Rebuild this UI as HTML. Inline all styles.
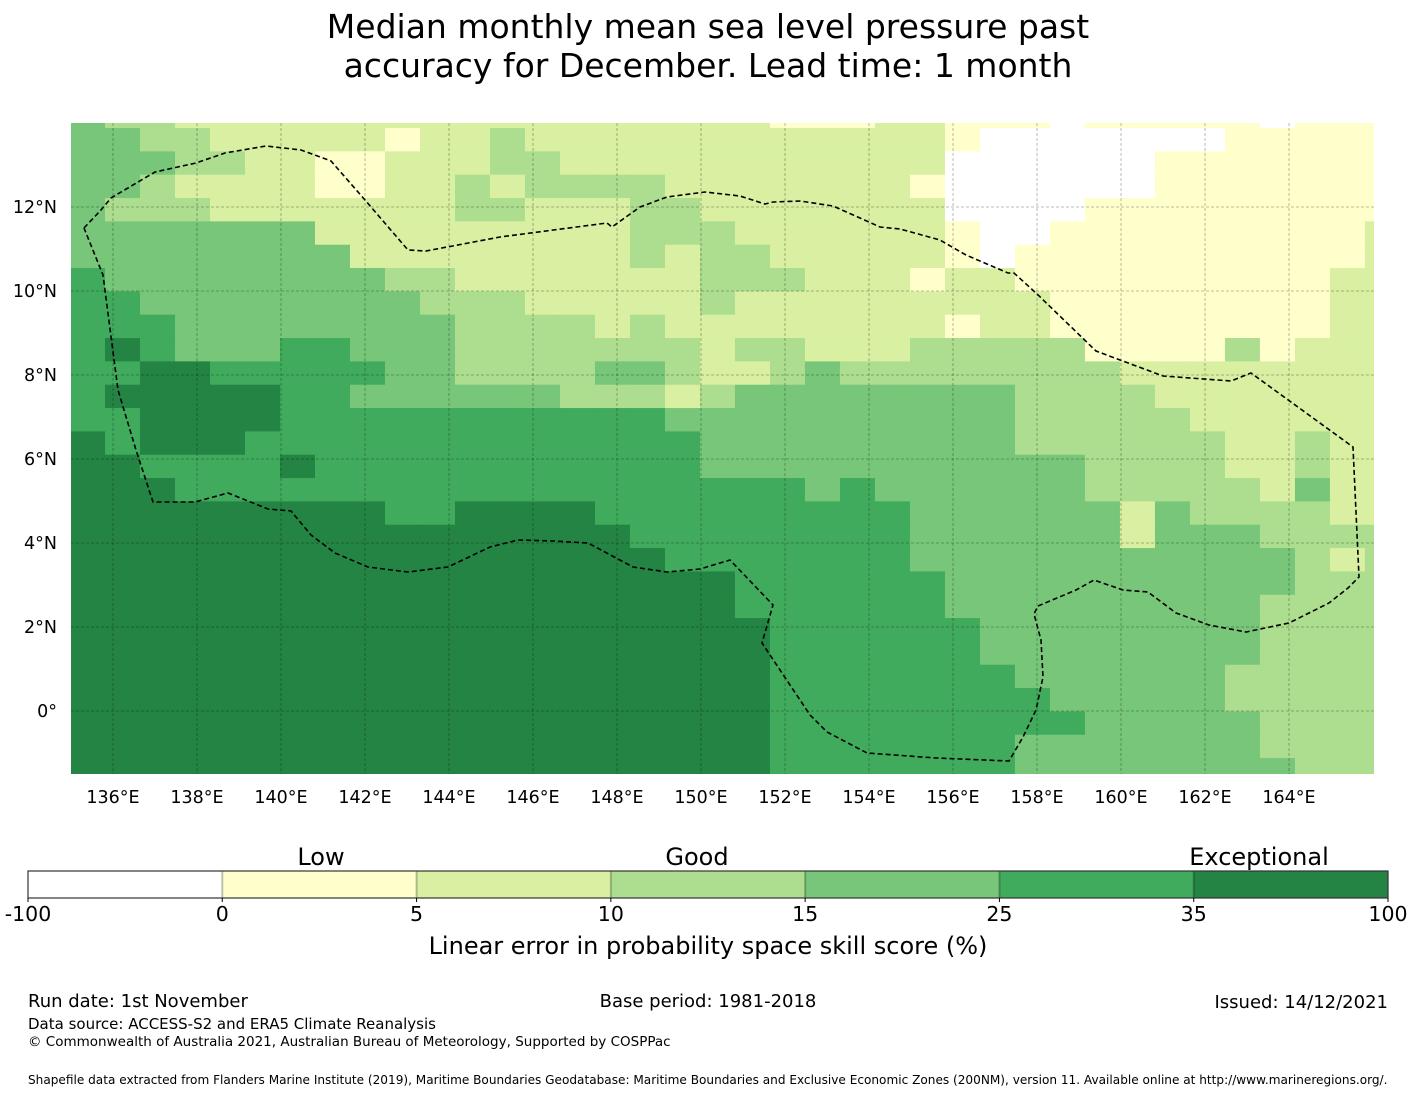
<!DOCTYPE html>
<html><head><meta charset="utf-8">
<style>
html,body{margin:0;padding:0;background:#fff;}
body{width:1416px;height:1095px;overflow:hidden;font-family:"DejaVu Sans","Liberation Sans",sans-serif;}
svg text{font-family:"DejaVu Sans","Liberation Sans",sans-serif;fill:#000;}
</style></head>
<body>
<svg id="chart" width="1416" height="1095" viewBox="0 0 1416 1095" xmlns="http://www.w3.org/2000/svg">
  <g>
    <text x="708" y="38" font-size="33" text-anchor="middle">Median monthly mean sea level pressure past</text>
    <text x="708" y="77" font-size="33" text-anchor="middle">accuracy for December. Lead time: 1 month</text>
  </g>
  <defs><clipPath id="mapclip"><rect x="71" y="123" width="1303" height="651"/></clipPath></defs>
  <g id="map" clip-path="url(#mapclip)"></g>
  <g id="axes"></g>
  <g id="cbar"></g>
  <g>
    <text x="28" y="1007" font-size="18">Run date: 1st November</text>
    <text x="708" y="1007" font-size="18" text-anchor="middle">Base period: 1981-2018</text>
    <text x="1388" y="1008" font-size="18" text-anchor="end">Issued: 14/12/2021</text>
    <text x="28" y="1029" font-size="15">Data source: ACCESS-S2 and ERA5 Climate Reanalysis</text>
    <text x="28" y="1046" font-size="13.5">© Commonwealth of Australia 2021, Australian Bureau of Meteorology, Supported by COSPPac</text>
    <text x="28" y="1084" font-size="12.1">Shapefile data extracted from Flanders Marine Institute (2019), Maritime Boundaries Geodatabase: Maritime Boundaries and Exclusive Economic Zones (200NM), version 11. Available online at http://www.marineregions.org/.</text>
  </g>
</svg>
<script>
// ---- data ----
const skillCategories = ["-100 to 0","0 to 5","5 to 10","10 to 15","15 to 25","25 to 35","35 to 100"];
const categoryColors = ["#ffffff","#ffffcc","#d9f0a3","#addd8e","#78c679","#41ab5d","#238443"];
const cbarLabels = ["-100","0","5","10","15","25","35","100"];
const cbarWords = ["Low","Good","Exceptional"];
const lonTicks = [136,138,140,142,144,146,148,150,152,154,156,158,160,162,164];
const latTicks = [0,2,4,6,8,10,12];
const gridLon0 = 134.976, gridLat0 = 14.436, cellLon = 0.8333, cellLat = 0.5556;
// rows north->south, one digit per grid column (category index)
const skillRows = [
"4332222222222"+"222222211122"+"1110111110111",
"4433222221223"+"222222222222"+"1000000011111",
"4443322112223"+"322222222222"+"0000001111111",
"4432222112232"+"333322222221"+"0000001111111",
"4333222222233"+"222332222222"+"0000111111111",
"4444444222222"+"222333222222"+"1001111111112",
"4444444422222"+"222323322222"+"1011111111112",
"5444444443322"+"222223332221"+"2211111111122",
"5544444444333"+"222223222222"+"2221111111122",
"5554444444433"+"332322222222"+"1221111111122",
"5654445544433"+"333332332223"+"3333111131222",
"5566555554433"+"334432234333"+"3333322222222",
"5666665544444"+"433323444444"+"4433332222222",
"5566665555555"+"555544444444"+"4433333222222",
"6566655555555"+"555554444444"+"4433333322322",
"6655556555555"+"555554444444"+"4444333322322",
"6665555555555"+"555555554544"+"4444333332422",
"6666666665566"+"665555555554"+"4444424333322",
"6666666666666"+"666555555554"+"4444424443333",
"6666666666666"+"666655555554"+"4444444444323",
"6666666666666"+"666666555555"+"4444444444333",
"6666666666666"+"666666555555"+"4444444443333",
"6666666666666"+"666666655555"+"5444444443333",
"6666666666666"+"666666655555"+"5444444443333",
"6666666666666"+"666666655555"+"5544444433333",
"6666666666666"+"666666655555"+"5554444433333",
"6666666666666"+"666666655555"+"5555444443333",
"6666666666666"+"666666655555"+"5544444443333",
"6666666666666"+"666666655555"+"5544444444333"
];
const eezLon = [];
const eezLat = [];

// ---- scales ----
const X0=71, Y0=123, PX=42;
function xS(lon){return X0+(lon-135)*PX;}
function yS(lat){return Y0+(14-lat)*PX;}
function xInv(px){return 135+(px-X0)/PX;}
function yInv(py){return 14-(py-Y0)/PX;}
const NS="http://www.w3.org/2000/svg";
function mk(tag,attrs,parent){const e=document.createElementNS(NS,tag);for(const k in attrs)e.setAttribute(k,attrs[k]);parent.appendChild(e);return e;}

const eezTrace=[[84,228],[101,210],[111,198],[155,172],[196,163],[225,153],[266,146],[301,150],[331,161],[365,200],[408,250],[426,251],[500,237],[607,223],[612,227],[640,207],[667,197],[705,192],[740,196],[765,204],[773,202],[800,201],[833,206],[860,218],[880,227],[900,229],[940,240],[966,255],[1008,273],[1014,273],[1036,293],[1096,351],[1163,376],[1231,381],[1251,373],[1353,447],[1359,577],[1348,588],[1329,603],[1289,623],[1246,632],[1209,625],[1176,613],[1148,592],[1123,590],[1094,580],[1076,590],[1038,606],[1034,614],[1041,640],[1043,677],[1036,710],[1023,737],[1009,761],[936,758],[867,753],[827,732],[810,715],[762,643],[773,605],[730,560],[700,569],[667,572],[633,567],[588,543],[553,541],[518,540],[490,547],[448,567],[408,572],[368,567],[335,553],[311,535],[291,511],[268,509],[228,493],[195,502],[153,502],[136,450],[118,390],[103,275],[84,228]];
eezTrace.forEach(p=>{eezLon.push(+xInv(p[0]).toFixed(3));eezLat.push(+yInv(p[1]).toFixed(3));});

// ---- heatmap ----
const map=document.getElementById('map');
skillRows.forEach((row,r)=>{
  for(let c=0;c<row.length;c++){
    const v=+row[c];
    const lonA=gridLon0+c*cellLon, latA=gridLat0-r*cellLat;
    const x=xS(lonA), y=yS(latA);
    const w=xS(lonA+cellLon)-x, h=yS(latA-cellLat)-y;
    const el=mk('rect',{x:x.toFixed(2),y:y.toFixed(2),width:(w+0.6).toFixed(2),height:(h+0.6).toFixed(2),fill:categoryColors[v]},map);
    
    
  }
});
lonTicks.forEach(l=>{
  const el=mk('line',{x1:xS(l),x2:xS(l),y1:123,y2:774,stroke:'#000','stroke-opacity':0.35,'stroke-width':0.8,'stroke-dasharray':'3,2'},map);
  
  
});
latTicks.forEach(l=>{
  const el=mk('line',{x1:71,x2:1374,y1:yS(l),y2:yS(l),stroke:'#000','stroke-opacity':0.35,'stroke-width':0.8,'stroke-dasharray':'3,2'},map);
  
  
});
let d='';
eezLon.forEach((lo,i)=>{d+=(i?'L':'M')+xS(lo).toFixed(1)+' '+yS(eezLat[i]).toFixed(1);});
const eez=mk('path',{d:d,fill:'none',stroke:'#000','stroke-width':1.6,'stroke-dasharray':'5,3'},map);



// ---- axes labels ----
const axes=document.getElementById('axes');
lonTicks.forEach(l=>{
  const t=mk('text',{x:xS(l),y:803,'font-size':17.5,'text-anchor':'middle'},axes);
  t.textContent=l+'°E';
  
  
});
latTicks.forEach(l=>{
  const t=mk('text',{x:57,y:yS(l)+6,'font-size':17.5,'text-anchor':'end'},axes);
  t.textContent=l===0?'0°':l+'°N';
  
  
});

// ---- colorbar ----
const cb=document.getElementById('cbar');
const cbX=28,cbW=1360,cbY=871,cbH=27,seg=cbW/categoryColors.length;
categoryColors.forEach((col,i)=>{
  const r=mk('rect',{x:cbX+i*seg,y:cbY,width:seg+0.5,height:cbH,fill:col},cb);
  
  
  if(i>0){const ln=mk('line',{x1:cbX+i*seg,x2:cbX+i*seg,y1:cbY,y2:cbY+cbH,stroke:'#000','stroke-opacity':0.25,'stroke-width':2},cb);
    
    }
});
const fr=mk('rect',{x:cbX,y:cbY,width:cbW,height:cbH,fill:'none',stroke:'#333','stroke-width':1.2},cb);


cbarLabels.forEach((lab,i)=>{
  const x=cbX+i*seg;
  const tk=mk('line',{x1:x,x2:x,y1:cbY+cbH,y2:cbY+cbH+4,stroke:'#000','stroke-width':1},cb);
  
  
  const t=mk('text',{x:x,y:921,'font-size':20.5,'text-anchor':'middle'},cb);
  t.textContent=lab;
  
  
});
const wordX=[321,697,1259];
cbarWords.forEach((w,i)=>{
  const t=mk('text',{x:wordX[i],y:865,'font-size':24,'text-anchor':'middle'},cb);
  t.textContent=w;
  
  
});
const ct=mk('text',{x:708,y:954,'font-size':24,'text-anchor':'middle'},cb);
ct.textContent='Linear error in probability space skill score (%)';


</script>
</body></html>
